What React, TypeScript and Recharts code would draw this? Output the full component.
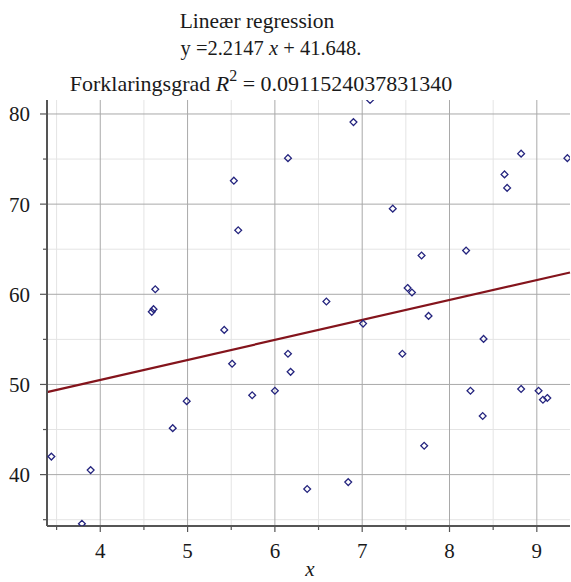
import React from "react";
import {
  CartesianGrid,
  ComposedChart,
  ReferenceLine,
  Scatter,
  XAxis,
  YAxis,
} from "recharts";

const xs = [
  3.44, 3.79, 3.89, 4.63, 4.61, 4.59, 5.42, 5.51, 4.83, 4.99, 5.74, 6.0, 6.15,
  6.18, 6.37, 6.59, 6.84, 7.01, 7.46, 7.52, 7.57, 7.76, 7.71, 8.39, 8.24, 8.38,
  8.82, 9.02, 9.07, 9.12, 5.53, 5.58, 6.15, 7.09, 6.9, 7.35, 7.68, 8.19, 8.63,
  8.66, 8.82, 9.35,
];
const ys = [
  42.0, 34.55, 40.5, 60.56, 58.35, 58.05, 56.05, 52.3, 45.15, 48.15, 48.8, 49.3,
  53.4, 51.4, 38.4, 59.2, 39.17, 56.75, 53.4, 60.7, 60.2, 57.6, 43.2, 55.05,
  49.3, 46.5, 49.5, 49.3, 48.3, 48.5, 72.6, 67.1, 75.1, 81.55, 79.1, 69.5, 64.3,
  64.85, 73.3, 71.8, 75.6, 75.1,
];

const SLOPE = 2.2147;
const INTERCEPT = 41.648;

const X_DOMAIN = [3.39, 9.38];
const Y_DOMAIN = [34.3, 81.55];
const X_MAJOR = [4, 5, 6, 7, 8, 9];
const X_MINOR = [3.5, 4.5, 5.5, 6.5, 7.5, 8.5];
const Y_MAJOR = [40, 50, 60, 70, 80];
const Y_MINOR = [35, 45, 55, 65, 75];

const points = xs.map((x, i) => ({ x, y: ys[i] }));
const fit = (x: number) => SLOPE * x + INTERCEPT;

const FONT = "'Liberation Serif', 'Times New Roman', serif";
const AXIS = "#555555";
const INK = "#1a1a1a";
const DOT = "#24247e";
const LINE = "#84141c";

const TICK_SIZE = 7;
const X_MARGIN = 10;
const Y_MARGIN = 5;

function XTick(props: any) {
  const { x, y, payload } = props;
  const major = X_MAJOR.includes(payload.value);
  const axisY = y - TICK_SIZE - X_MARGIN;
  return (
    <g>
      <line x1={x} x2={x} y1={axisY} y2={axisY + (major ? 6 : 4)} stroke={AXIS} strokeWidth={1.2} />
      {major && (
        <text x={x} y={y} dy="0.71em" textAnchor="middle" fontFamily={FONT} fontSize={21} fill={INK}>
          {payload.value}
        </text>
      )}
    </g>
  );
}

function YTick(props: any) {
  const { x, y, payload } = props;
  const major = Y_MAJOR.includes(payload.value);
  const axisX = x + TICK_SIZE + Y_MARGIN;
  return (
    <g>
      <line x1={axisX - (major ? 7 : 4)} x2={axisX} y1={y} y2={y} stroke={AXIS} strokeWidth={1.2} />
      {major && (
        <text x={x - 5} y={y} dy="0.355em" textAnchor="end" fontFamily={FONT} fontSize={21} fill={INK}>
          {payload.value}
        </text>
      )}
    </g>
  );
}

function Diamond(props: any) {
  const { cx, cy } = props;
  const r = 3.4;
  return (
    <polygon
      points={`${cx},${cy - r} ${cx + r},${cy} ${cx},${cy + r} ${cx - r},${cy}`}
      fill="none"
      stroke={DOT}
      strokeWidth={1.3}
    />
  );
}

export default function App() {
  return (
    <div style={{ position: "absolute", left: 0, top: 0, width: 571, height: 582, background: "#fff" }}>
      <ComposedChart
        width={571}
        height={582}
        data={points}
        margin={{ top: 100, right: 1, left: 0, bottom: 26 }}
      >
        <CartesianGrid
          stroke="#e4e4e4"
          verticalValues={X_MINOR}
          horizontalValues={Y_MINOR}
        />
        <CartesianGrid
          stroke="#a9a9a9"
          verticalValues={X_MAJOR}
          horizontalValues={Y_MAJOR}
        />
        <XAxis
          type="number"
          dataKey="x"
          domain={X_DOMAIN}
          allowDataOverflow
          ticks={[...X_MINOR, ...X_MAJOR].sort((a, b) => a - b)}
          interval={0}
          height={30}
          tickSize={TICK_SIZE}
          tickMargin={X_MARGIN}
          tickLine={false}
          tick={<XTick />}
          axisLine={{ stroke: AXIS, strokeWidth: 2 }}
        />
        <YAxis
          type="number"
          dataKey="y"
          domain={Y_DOMAIN}
          allowDataOverflow
          ticks={[...Y_MINOR, ...Y_MAJOR].sort((a, b) => a - b)}
          interval={0}
          width={47}
          tickSize={TICK_SIZE}
          tickMargin={Y_MARGIN}
          tickLine={false}
          tick={<YTick />}
          axisLine={{ stroke: AXIS, strokeWidth: 2 }}
        />
        <ReferenceLine
          segment={[
            { x: X_DOMAIN[0], y: fit(X_DOMAIN[0]) },
            { x: X_DOMAIN[1], y: fit(X_DOMAIN[1]) },
          ]}
          stroke={LINE}
          strokeWidth={2.2}
        />
        <Scatter data={points} shape={<Diamond />} isAnimationActive={false} />
      </ComposedChart>
      <svg
        width={571}
        height={582}
        style={{ position: "absolute", left: 0, top: 0, pointerEvents: "none" }}
        fontFamily={FONT}
        fill={INK}
      >
        <text x={257} y={28} textAnchor="middle" fontSize={21.5}>Lineær regression</text>
        <text x={271} y={55} textAnchor="middle" fontSize={20.5}>
          y =2.2147 <tspan fontStyle="italic">x</tspan> + 41.648.
        </text>
        <text x={261} y={91} textAnchor="middle" fontSize={22}>
          Forklaringsgrad <tspan fontStyle="italic">R</tspan>
          <tspan dy={-10} fontSize={16}>2</tspan>
          <tspan dy={10}> = 0.0911524037831340</tspan>
        </text>
        <text x={310} y={576} textAnchor="middle" fontStyle="italic" fontSize={21}>x</text>
      </svg>
    </div>
  );
}
